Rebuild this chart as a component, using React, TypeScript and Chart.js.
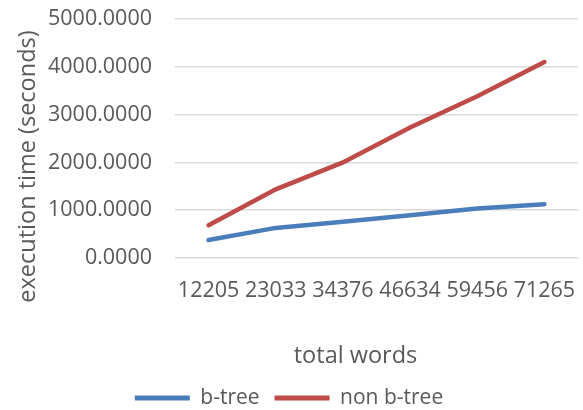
import React, { useEffect, useRef } from "react";
import { Chart, registerables } from "chart.js";

Chart.register(...registerables);

const categories = ["12205", "23033", "34376", "46634", "59456", "71265"];
const bTree = [375, 630, 757, 896, 1035, 1125];
const nonBTree = [687, 1437, 2000, 2730, 3385, 4100];
const seriesNames = ["b-tree", "non b-tree"];
const xTitle = "total words";
const yTitle = "execution time (seconds)";

const FONT = "'Open Sans', sans-serif";
const TEXT = "#595959";
const TITLE_SIZE = 23.5;

// Axis titles drawn as canvas text, positioned relative to the chart area
const axisTitles = {
  id: "axisTitles",
  afterDraw(chart: any) {
    const { ctx, chartArea } = chart;
    const xs = chart.scales.x;
    ctx.save();
    ctx.fillStyle = TEXT;
    ctx.font = `${TITLE_SIZE}px ${FONT}`;
    ctx.textAlign = "center";
    ctx.textBaseline = "middle";
    const cx = (chartArea.left + chartArea.right) / 2 - 21;
    ctx.fillText(xTitle, cx, xs.bottom - 16.5);
    const cy = (chartArea.top + chartArea.bottom) / 2 + 28;
    ctx.translate(28, cy);
    ctx.rotate(-Math.PI / 2);
    ctx.fillText(yTitle, 0, 0);
    ctx.restore();
  },
};

export default function App() {
  const ref = useRef<HTMLCanvasElement | null>(null);
  useEffect(() => {
    if (!ref.current) return;
    const chart = new Chart(ref.current, {
      type: "line",
      data: {
        labels: categories,
        datasets: [
          {
            label: seriesNames[0],
            data: bTree,
            borderColor: "#4a7ebb",
            backgroundColor: "#4a7ebb",
            borderWidth: 4.5,
            pointRadius: 0,
            borderCapStyle: "round",
            tension: 0,
          },
          {
            label: seriesNames[1],
            data: nonBTree,
            borderColor: "#be4b48",
            backgroundColor: "#be4b48",
            borderWidth: 4.5,
            pointRadius: 0,
            borderCapStyle: "round",
            tension: 0,
          },
        ],
      },
      plugins: [axisTitles],
      options: {
        animation: false,
        responsive: false,
        devicePixelRatio: 1,
        layout: { padding: { top: 19, right: 5, left: 0, bottom: -8.5 } },
        plugins: {
          tooltip: { enabled: false },
          legend: {
            position: "bottom",
            labels: {
              color: TEXT,
              font: { family: FONT, size: 21 },
              boxWidth: 55,
              boxHeight: 5,
              padding: 15,
              generateLabels: (c) =>
                c.data.datasets.map((d: any, i: number) => ({
                  text: d.label,
                  fillStyle: d.borderColor,
                  strokeStyle: d.borderColor,
                  lineWidth: 0,
                  fontColor: TEXT,
                  datasetIndex: i,
                  hidden: false,
                })),
            },
          },
        },
        scales: {
          x: {
            offset: true,
            grid: { display: true, color: "transparent", drawTicks: true, tickLength: 20, tickColor: "transparent" },
            border: { display: false },
            ticks: { color: TEXT, font: { family: FONT, size: 21.5 }, padding: 0, maxRotation: 0, autoSkip: false },
            title: { display: false },
            afterFit: (scale: any) => {
              scale.height = 114.5;
            },
          },
          y: {
            min: 0,
            max: 5000,
            grid: { color: "#d9d9d9", lineWidth: 1.5, drawTicks: true, tickLength: 23, tickColor: "transparent" },
            border: { display: false },
            ticks: {
              stepSize: 1000,
              color: TEXT,
              font: { family: FONT, size: 21.5 },
              padding: 0,
              callback: (v: any) => Number(v).toFixed(4),
            },
            title: { display: false },
            afterFit: (scale: any) => {
              scale.width = 175;
            },
          },
        },
      },
    });
    return () => chart.destroy();
  }, []);
  return (
    <div style={{ position: "fixed", left: 0, top: 0, width: 583, height: 410, background: "#fff" }}>
      <canvas ref={ref} width={583} height={410} style={{ width: 583, height: 410 }} />
    </div>
  );
}
